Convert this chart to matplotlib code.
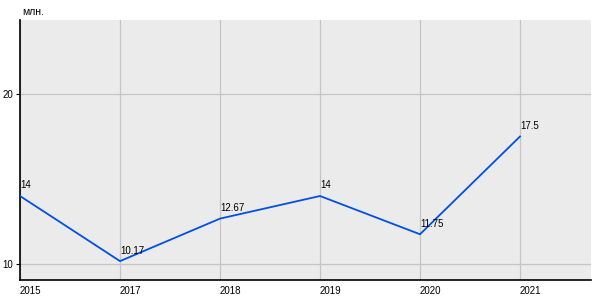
import matplotlib.pyplot as plt

years = ['2015', '2017', '2018', '2019', '2020', '2021']
values = [14, 10.17, 12.67, 14, 11.75, 17.5]
labels = ['14', '10.17', '12.67', '14', '11.75', '17.5']
y_ticks = [10, 20]

plt.rcParams['font.family'] = ['Liberation Sans', 'DejaVu Sans']

fig = plt.figure(figsize=(6, 3), dpi=100)
ax = fig.add_axes([20 / 600, 20 / 300, 571 / 600, 260 / 300])
ax.set_facecolor('#ebebeb')

x = list(range(len(years)))
ax.plot(x, values, color='#0050e6', lw=1.3, zorder=3)
for xi, v, t in zip(x, values, labels):
    ax.annotate(t, (xi, v), xytext=(0, 4), textcoords='offset points',
                ha='left', va='bottom', fontsize=7, color='black', zorder=4)

ax.set_xlim(0, 5.71)
ax.set_ylim(9.06, 24.35)
ax.set_xticks(x)
ax.set_xticklabels(years, ha='left')
ax.set_yticks(y_ticks)
ax.grid(True, color='#c4c4c4', lw=0.9, zorder=1)
ax.set_axisbelow(True)

for s in ['top', 'right']:
    ax.spines[s].set_visible(False)
ax.spines['left'].set_linewidth(1.2)
ax.spines['bottom'].set_linewidth(1.2)
ax.tick_params(axis='x', length=0, labelsize=7, pad=4)
ax.tick_params(axis='y', length=3, width=0.8, labelsize=7, pad=2)

fig.text(22 / 600, 1 - 12 / 300, 'млн.', fontsize=7.5, va='center', ha='left')

fig.savefig('out.png', dpi=100)
